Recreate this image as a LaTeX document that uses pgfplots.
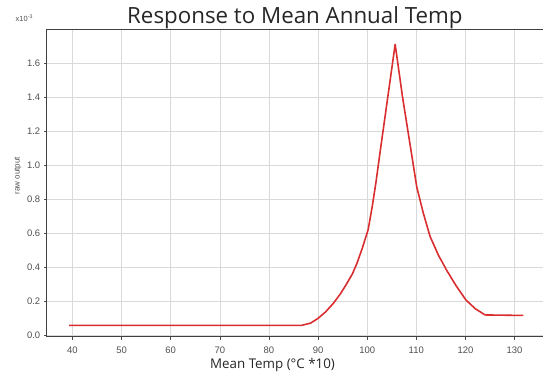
\documentclass[border=0pt]{standalone}
\usepackage{fontspec}
\setmainfont{Open Sans}
\newfontfamily\arial{Liberation Sans}
\usepackage{pgfplots}
\pgfplotsset{compat=1.18}
\definecolor{curvered}{RGB}{218,45,48}
\definecolor{tickgray}{RGB}{80,80,80}
\begin{document}
\begin{tikzpicture}
\begin{axis}[
  scale only axis,
  width=496.3bp, height=307.7bp,
  xmin=34.75, xmax=135.8,
  ymin=-0.01, ymax=1.8,
  xtick={40,50,...,130},
  ytick={0,0.2,...,1.6},
  yticklabel style={/pgf/number format/.cd,fixed,fixed zerofill,precision=1},
  /pgf/number format/assume math mode=true,
  ticklabel style={font=\arial\fontsize{9.5}{10}\selectfont, text=tickgray},
  grid=major,
  major grid style={draw=black!15, line width=0.5pt},
  axis line style={draw=black!75, line width=0.8pt},
  tick style={draw=black!70, line width=0.6pt},
  major tick length=3bp,
  tick align=outside,
  xtick pos=left, ytick pos=left,
  xticklabel shift=4bp,
  yticklabel shift=0bp,
  clip=false,
]
\addplot[curvered, line width=1.6pt, line join=round] coordinates {
(39.3,0.057) (86.7,0.057) (88.5,0.070) (90,0.098) (91.5,0.135) (93.1,0.186)
(94.5,0.240) (95.8,0.30) (97.0,0.36) (97.9,0.42) (99.0,0.51) (100.2,0.62)
(101.0,0.75) (101.8,0.90) (102.6,1.07) (105.7,1.71)
(107.2,1.40) (108.9,1.09) (110.1,0.87) (111.4,0.72) (112.8,0.58) (114.5,0.47)
(116.2,0.38) (118.1,0.29) (120.1,0.206) (122.0,0.155) (124.0,0.118) (131.8,0.115)
};
\node[anchor=base, font=\fontsize{22.4}{26}\selectfont, text=black!85] at (rel axis cs:0.5,1) [yshift=5bp] {Response to Mean Annual Temp};
\node[anchor=base, font=\fontsize{13.4}{15}\selectfont, text=black!85] at (rel axis cs:0.455,0) [yshift=-32bp] {Mean Temp (°C *10)};
\node[rotate=90, anchor=center, font=\arial\fontsize{8}{9}\selectfont, text=tickgray] at ([xshift=-28.7bp, yshift=7bp]rel axis cs:0,0.5) {raw output};
\node[anchor=base west, font=\arial\fontsize{7.5}{8}\selectfont, text=tickgray] at ([xshift=-34.5bp, yshift=7bp]rel axis cs:0,1) {x10\textsuperscript{-3}};
\end{axis}
\pgfresetboundingbox
\path (-46.7bp,-48.3bp) rectangle (496.3bp,336.7bp);
\end{tikzpicture}
\end{document}
